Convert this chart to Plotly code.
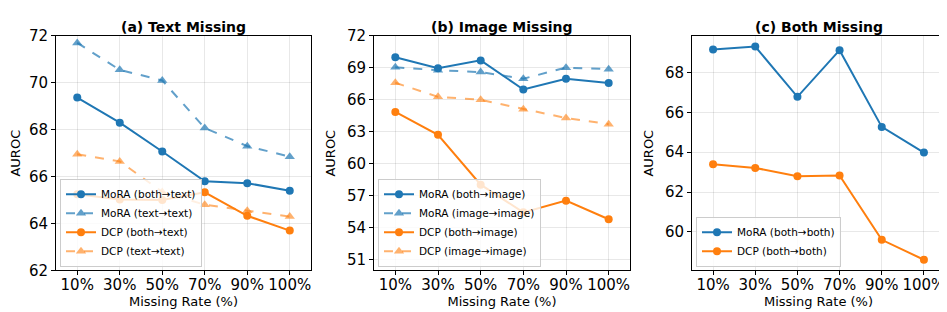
import plotly.graph_objects as go

rates = ["10%", "30%", "50%", "70%", "90%", "100%"]

# (a) Text Missing
a_mora_both = [69.37, 68.30, 67.07, 65.80, 65.72, 65.40]
a_mora_text = [71.70, 70.55, 70.10, 68.07, 67.30, 66.85]
a_dcp_both = [65.25, 65.02, 65.00, 65.33, 64.33, 63.70]
a_dcp_text = [66.95, 66.65, 65.35, 64.80, 64.55, 64.30]

# (b) Image Missing
b_mora_both = [70.00, 68.97, 69.70, 66.97, 67.97, 67.58]
b_mora_image = [69.05, 68.78, 68.60, 67.98, 69.02, 68.88]
b_dcp_both = [64.87, 62.72, 58.05, 55.45, 56.55, 54.80]
b_dcp_image = [67.60, 66.28, 66.00, 65.12, 64.30, 63.72]

# (c) Both Missing
c_mora_both = [69.15, 69.30, 66.78, 69.12, 65.27, 63.98]
c_dcp_both = [63.39, 63.21, 62.79, 62.83, 59.60, 58.60]

BLUE = "#1f77b4"
ORANGE = "#ff7f0e"
BLUE_A = "rgba(31,119,180,0.7)"
ORANGE_A = "rgba(255,127,14,0.6)"
FONT = "DejaVu Sans"

W, H = 947, 312
panels = [
    dict(x0=48, x1=303, yr=[62, 72], dt=2, title="(a) Text Missing"),
    dict(x0=366, x1=622, yr=[50, 72], dt=3, title="(b) Image Missing", t0=51),
    dict(x0=684, x1=937, yr=[58.06, 69.84], dt=2, title="(c) Both Missing", t0=60),
]
ytop, ybot = 20, 269

fig = go.Figure()

def add(xa, ya, y, name, color, dashed, legend):
    fig.add_trace(go.Scatter(
        x=list(range(len(rates))), y=y, name=name, xaxis=xa, yaxis=ya,
        mode="lines+markers", legend=legend,
        line=dict(color=color, width=2, dash="dash" if dashed else "solid"),
        marker=dict(symbol="triangle-up" if dashed else "circle", size=8 if not dashed else 9,
                    color=color),
    ))

add("x", "y", a_mora_both, "MoRA (both→text)", BLUE, False, "legend")
add("x", "y", a_mora_text, "MoRA (text→text)", BLUE_A, True, "legend")
add("x", "y", a_dcp_both, "DCP (both→text)", ORANGE, False, "legend")
add("x", "y", a_dcp_text, "DCP (text→text)", ORANGE_A, True, "legend")

add("x2", "y2", b_mora_both, "MoRA (both→image)", BLUE, False, "legend2")
add("x2", "y2", b_mora_image, "MoRA (image→image)", BLUE_A, True, "legend2")
add("x2", "y2", b_dcp_both, "DCP (both→image)", ORANGE, False, "legend2")
add("x2", "y2", b_dcp_image, "DCP (image→image)", ORANGE_A, True, "legend2")

add("x3", "y3", c_mora_both, "MoRA (both→both)", BLUE, False, "legend3")
add("x3", "y3", c_dcp_both, "DCP (both→both)", ORANGE, False, "legend3")

layout = dict(
    width=W, height=H, margin=dict(l=0, r=0, t=0, b=0),
    paper_bgcolor="white", plot_bgcolor="white",
    font=dict(family=FONT, color="black"),
    annotations=[],
)

for i, p in enumerate(panels):
    sfx = "" if i == 0 else str(i + 1)
    xd = [p["x0"] / W, p["x1"] / W]
    yd = [1 - ybot / H, 1 - ytop / H]
    t0 = p.get("t0", p["yr"][0])
    tickvals = []
    v = t0
    while v <= p["yr"][1] + 1e-6:
        tickvals.append(v)
        v += p["dt"]
    layout["xaxis" + sfx] = dict(
        domain=xd, anchor="y" + sfx, range=[-0.5, 5.5],
        tickmode="array", tickvals=list(range(6)), ticktext=rates,
        tickfont=dict(size=15), ticks="outside", ticklen=4, tickcolor="black",
        ticklabelstandoff=-3,
        showline=True, linecolor="black", linewidth=1, mirror=True,
        showgrid=True, gridcolor="rgba(0,0,0,0.09)", zeroline=False,
        title=dict(text="Missing Rate (%)", font=dict(size=13), standoff=1),
    )
    layout["yaxis" + sfx] = dict(
        domain=yd, anchor="x" + sfx, range=p["yr"],
        tickmode="array", tickvals=tickvals,
        tickfont=dict(size=15), ticks="outside", ticklen=4, tickcolor="black",
        showline=True, linecolor="black", linewidth=1, mirror=True,
        showgrid=True, gridcolor="rgba(0,0,0,0.09)", zeroline=False,
        title=dict(text="AUROC", font=dict(size=13), standoff=8),
    )
    layout["annotations"].append(dict(
        text="<b>" + p["title"] + "</b>", xref="paper", yref="paper",
        x=(xd[0] + xd[1]) / 2, y=1 - 11 / H, xanchor="center", yanchor="middle",
        showarrow=False, font=dict(size=14, family=FONT),
    ))
    leg_x = (p["x0"] + 4) / W
    layout["legend" + sfx] = dict(
        x=leg_x, y=1 - (ybot - 4) / H, xanchor="left", yanchor="bottom",
        bgcolor="rgba(255,255,255,0.8)", bordercolor="#cccccc", borderwidth=1,
        font=dict(size=10.5, family=FONT), itemwidth=30, tracegroupgap=0,
    )

fig.update_layout(**layout)
fig.write_html("out.html")
